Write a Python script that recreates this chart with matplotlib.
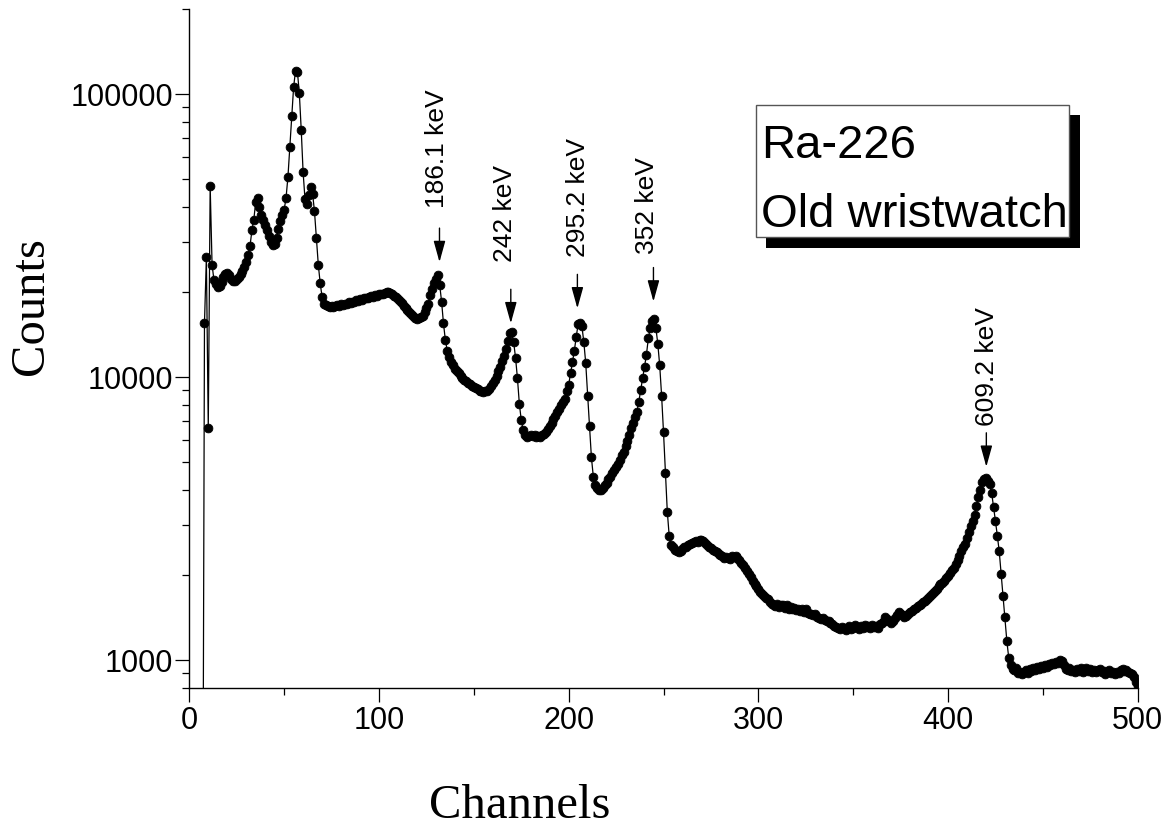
import numpy as np
import matplotlib.pyplot as plt
from matplotlib.patches import Rectangle
from matplotlib.ticker import LogLocator, MultipleLocator, NullFormatter

plt.rcParams['font.family'] = ['Liberation Sans', 'DejaVu Sans']

# counts per channel, starting at channel 7
counts = [
    100, 15500, 26500, 6600, 47500, 25000, 22000, 21300, 20800, 21000,
    21700, 22500, 23100, 23300, 23000, 22300, 21800, 21900, 22200, 22600,
    23200, 23800, 24500, 25600, 27000, 29000, 33000, 36000, 41500, 43000,
    40000, 37500, 36000, 34500, 33000, 31500, 30000, 29200, 29500, 31000,
    33500, 35500, 37500, 39000, 43000, 51000, 65000, 84000, 106000, 121000,
    120000, 101000, 75000, 53000, 42500, 41000, 44000, 47000, 44500, 38500,
    31000, 25000, 21500, 19200, 18200, 18000, 17800, 17700, 17900, 17700,
    17800, 18000, 17900, 18100, 18000, 18200, 18200, 18400, 18300, 18500,
    18400, 18700, 18600, 18900, 18800, 19000, 19100, 19000, 19200, 19300,
    19200, 19500, 19400, 19600, 19700, 19600, 19900, 20000, 20000, 19800,
    19600, 19400, 19200, 18900, 18600, 18300, 17900, 17600, 17300, 17000,
    16700, 16400, 16200, 16100, 16200, 16300, 16500, 17000, 17600, 18200,
    19500, 20500, 21500, 22300, 22900, 21200, 18500, 15500, 13500, 12400,
    11800, 11300, 11000, 10700, 10500, 10300, 10100, 9950, 9800, 9700,
    9550, 9450, 9300, 9250, 9150, 9050, 8950, 8900, 8850, 8900,
    8950, 9100, 9300, 9550, 9800, 10100, 10500, 10900, 11400, 11900,
    12600, 13400, 14300, 14400, 13300, 11700, 9900, 8050, 7050, 6500,
    6250, 6150, 6200, 6250, 6200, 6250, 6150, 6200, 6150, 6250,
    6300, 6400, 6550, 6700, 6900, 7100, 7300, 7500, 7700, 7950,
    8150, 8400, 8900, 9400, 10300, 11300, 12400, 13900, 15400, 15500,
    15100, 13300, 11200, 8600, 6700, 5200, 4450, 4150, 4050, 4000,
    3980, 4050, 4150, 4220, 4350, 4450, 4570, 4700, 4820, 4950,
    5100, 5300, 5450, 5700, 5950, 6250, 6600, 6900, 7200, 7550,
    8200, 9000, 9900, 10900, 12000, 13700, 14900, 15800, 16100, 14900,
    13100, 11000, 8600, 6400, 4600, 3350, 2750, 2550, 2500, 2450,
    2420, 2410, 2430, 2460, 2500, 2520, 2550, 2580, 2600, 2620,
    2640, 2610, 2650, 2660, 2640, 2600, 2560, 2510, 2480, 2450,
    2430, 2400, 2370, 2350, 2330, 2300, 2320, 2290, 2270, 2330,
    2310, 2330, 2300, 2250, 2200, 2170, 2120, 2060, 2010, 1960,
    1910, 1860, 1820, 1780, 1740, 1710, 1690, 1660, 1640, 1610,
    1580, 1570, 1550, 1580, 1540, 1570, 1560, 1530, 1560, 1520,
    1540, 1510, 1530, 1500, 1520, 1490, 1510, 1480, 1520, 1470,
    1460, 1450, 1440, 1450, 1420, 1410, 1400, 1410, 1390, 1380,
    1370, 1350, 1340, 1320, 1310, 1300, 1290, 1310, 1300, 1280,
    1300, 1320, 1290, 1300, 1330, 1310, 1290, 1320, 1300, 1330,
    1310, 1320, 1300, 1330, 1310, 1320, 1300, 1340, 1350, 1380,
    1420, 1400, 1370, 1350, 1380, 1410, 1440, 1480, 1460, 1440,
    1420, 1430, 1450, 1480, 1490, 1510, 1530, 1550, 1560, 1580,
    1600, 1620, 1640, 1670, 1700, 1720, 1760, 1790, 1820, 1850,
    1880, 1910, 1950, 1990, 2030, 2080, 2120, 2190, 2260, 2340,
    2420, 2500, 2580, 2700, 2840, 2980, 3100, 3250, 3500, 3780,
    4000, 4250, 4380, 4400, 4300, 4180, 3900, 3480, 3100, 2750,
    2420, 2020, 1690, 1420, 1170, 1020, 960, 930, 920, 940,
    900, 910, 890, 905, 920, 900, 930, 915, 935, 920,
    945, 930, 955, 940, 960, 945, 970, 960, 975, 965,
    985, 980, 1000, 990, 960, 930, 920, 940, 915, 925,
    905, 930, 915, 935, 910, 925, 935, 915, 930, 905,
    925, 910, 920, 930, 905, 915, 895, 910, 920, 900,
    905, 895, 910, 900, 920, 930, 915, 925, 905, 900,
    890, 870, 840, 810,
]
channels = np.arange(7, 7 + len(counts))

# peak labels: channel and count where the arrow points
peak_labels = ['186.1 keV', '242 keV', '295.2 keV', '352 keV', '609.2 keV']
peak_channels = [131.9, 169.5, 204.6, 244.7, 420.2]
arrow_tips = [25500, 15500, 17500, 18500, 4820]
# text shift (pixels) relative to the arrow
text_dx = [-2, -6, 1, -6, 1]
text_gap = [20, 27, 17, 14, 7]

box_lines = ['Ra-226', 'Old wristwatch']

W, H = 1176, 836
fig = plt.figure(figsize=(W / 100, H / 100), dpi=100)
ax = fig.add_axes([189.3 / W, 1 - 687.5 / H, (1137.7 - 189.3) / W, (687.5 - 9) / H])

ax.plot(channels, counts, color='black', lw=0.9, marker='o', ms=6.3,
        mfc='black', mec='black', mew=0.6)

ax.set_yscale('log')
ax.set_xlim(0, 500)
ax.set_ylim(800, 200000)

for s in ['top', 'right']:
    ax.spines[s].set_visible(False)
for s in ['left', 'bottom']:
    ax.spines[s].set_linewidth(1.0)

ax.xaxis.set_major_locator(MultipleLocator(100))
ax.xaxis.set_minor_locator(MultipleLocator(50))
ax.set_yticks([1000, 10000, 100000])
ax.set_yticklabels(['1000', '10000', '100000'])
ax.yaxis.set_minor_locator(LogLocator(base=10, subs=np.arange(2, 10)))
ax.yaxis.set_minor_formatter(NullFormatter())
ax.tick_params(which='major', direction='out', length=10, width=0.9,
               labelsize=22, pad=3)
ax.tick_params(axis='y', which='major', pad=1.5)
ax.tick_params(which='minor', direction='out', length=5, width=0.9)

ax.set_ylabel('Counts', family='Liberation Serif', fontsize=35, va='center')
ax.yaxis.set_label_coords((31 - 189.3) / 948.4, (687.5 - 306) / 678.5)
ax.set_xlabel('Channels', family='Liberation Serif', fontsize=35, va='center')
ax.xaxis.set_label_coords((520 - 189.3) / 948.4, (687.5 - 806) / 678.5)

for lab, ch, tip, dx, gap in zip(peak_labels, peak_channels, arrow_tips, text_dx, text_gap):
    ax.annotate('', xy=(ch, tip), xytext=(0, 34), textcoords='offset pixels',
                arrowprops=dict(arrowstyle='-|>,head_length=1.3,head_width=0.36',
                                color='black', lw=1, shrinkA=0, shrinkB=0))
    ax.annotate(lab, xy=(ch, tip), xytext=(dx, 34 + gap), textcoords='offset pixels',
                rotation=90, ha='center', va='bottom', fontsize=19)

# label box with shadow
def fx(px):
    return px / W

def fy(py):
    return 1 - py / H

fig.patches.append(Rectangle((fx(766), fy(248)), fx(1080) - fx(766), fy(115) - fy(248),
                             transform=fig.transFigure, facecolor='black', edgecolor='none'))
fig.patches.append(Rectangle((fx(756), fy(237)), fx(1069) - fx(756), fy(105) - fy(237),
                             transform=fig.transFigure, facecolor='white',
                             edgecolor='#555555', lw=1))
fig.text(fx(761), fy(158), box_lines[0], fontsize=34, va='baseline', ha='left')
fig.text(fx(761), fy(227), box_lines[1], fontsize=34, va='baseline', ha='left')

fig.savefig('out.png', dpi=100)
